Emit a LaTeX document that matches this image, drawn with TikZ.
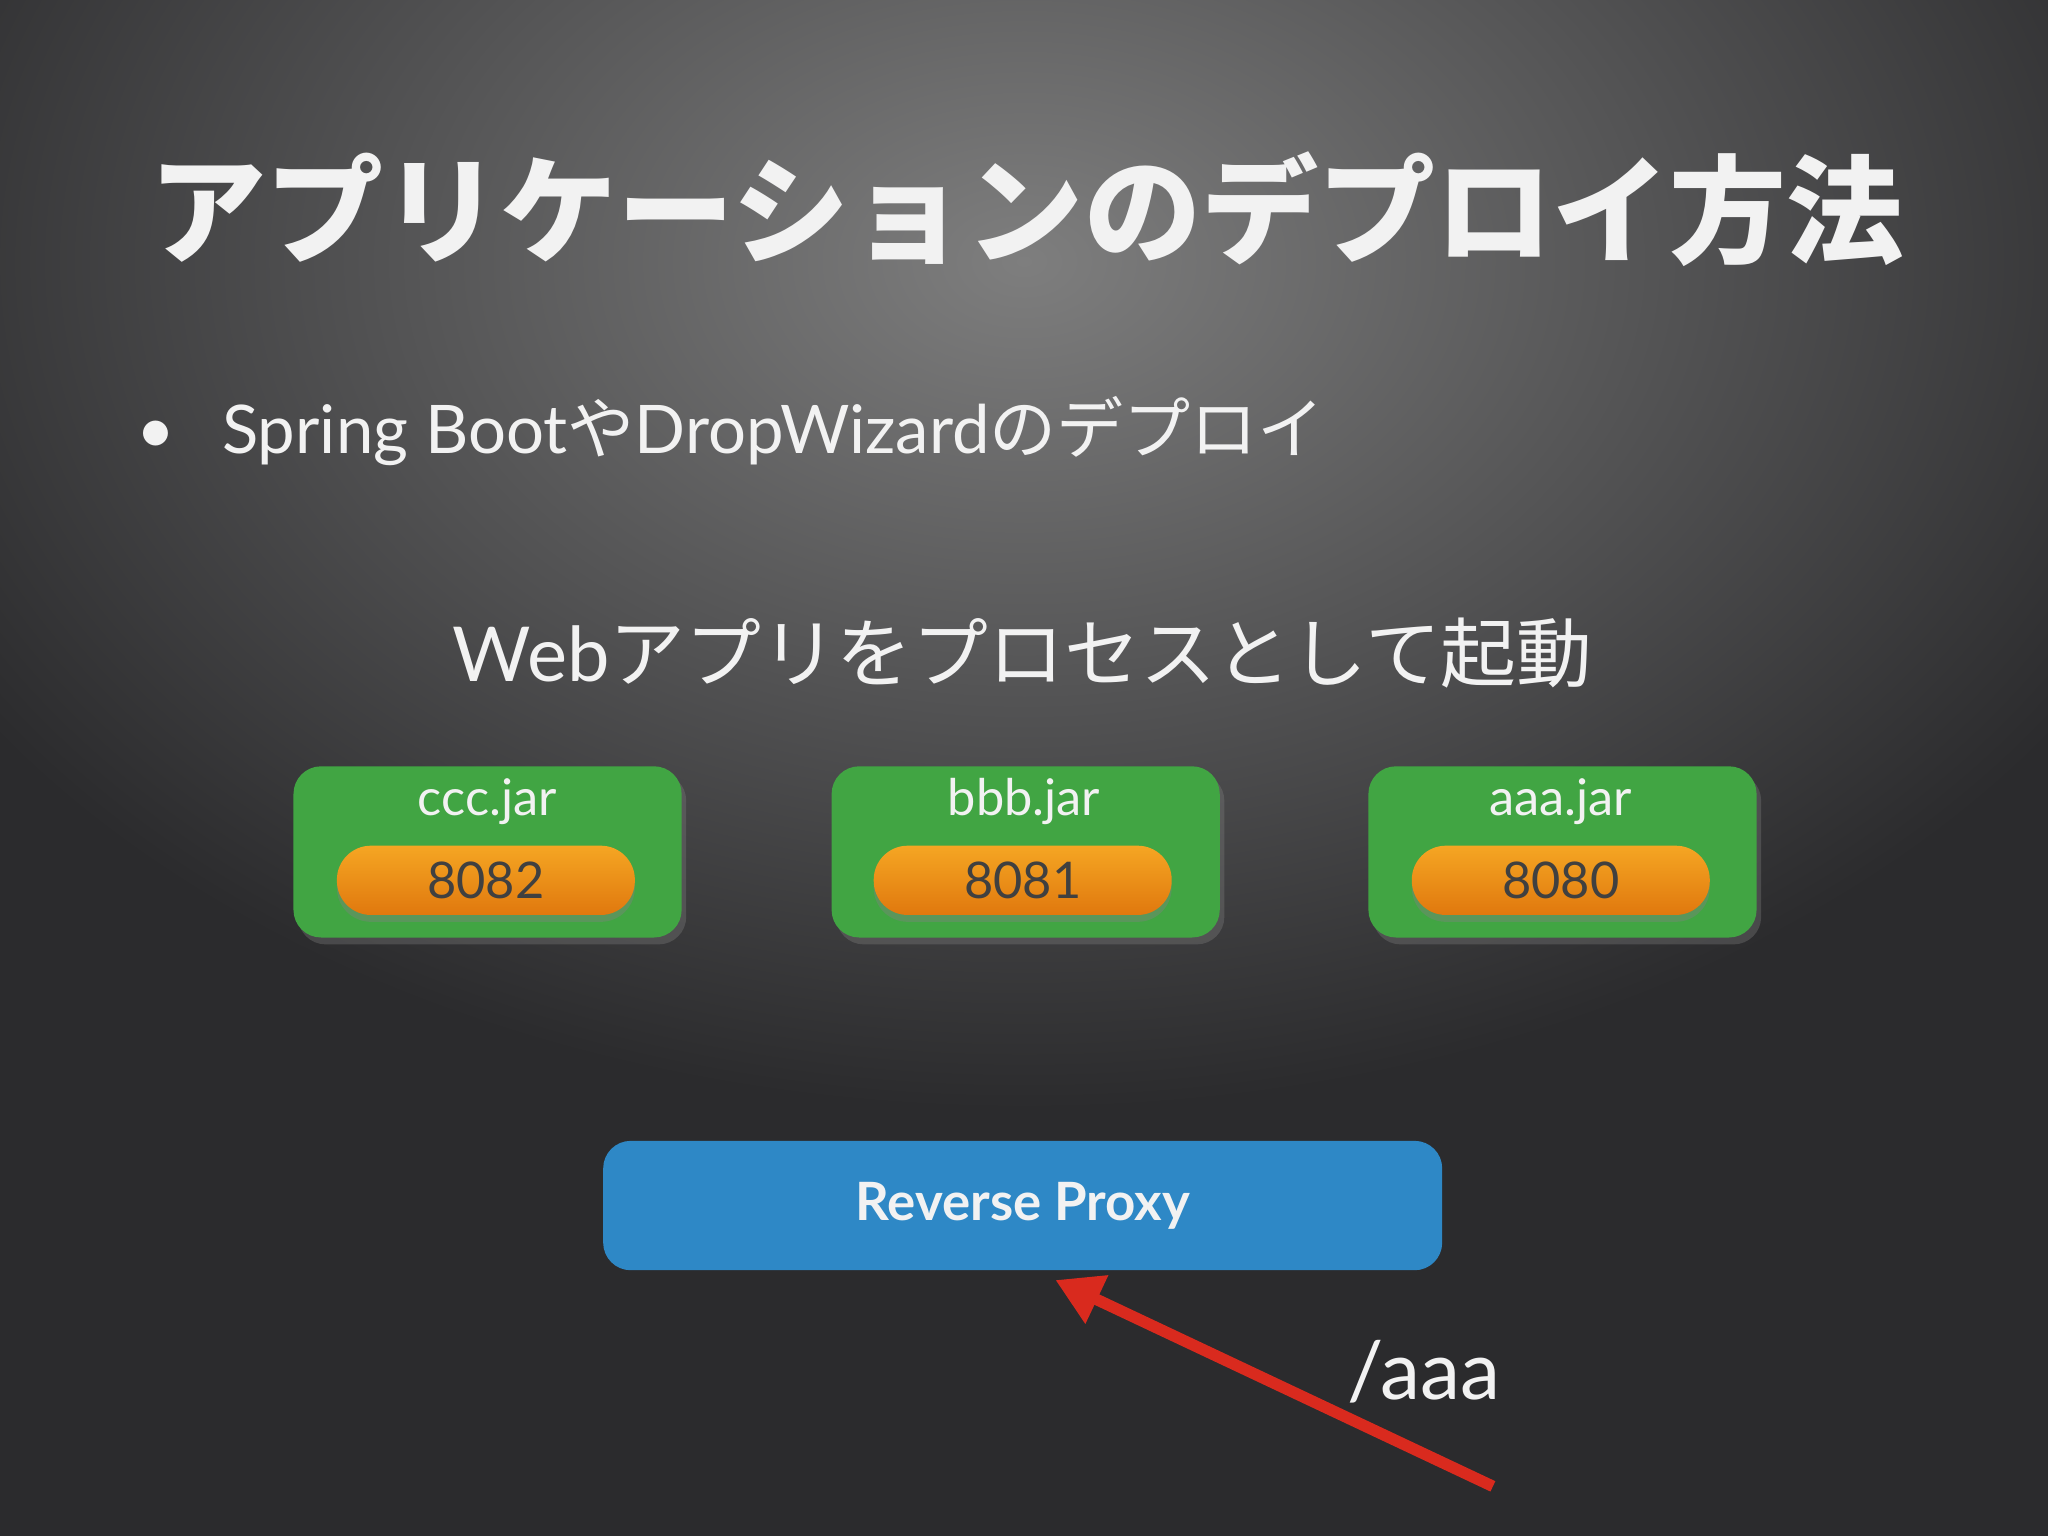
\documentclass[tikz,border=0pt]{standalone}
\usepackage{fontspec}
\setmainfont{Lato}
\newfontfamily\jp{Noto Sans CJK JP}
\usetikzlibrary{arrows.meta,shadows}
\definecolor{bgdark}{HTML}{2B2B2D}
\definecolor{bglight}{HTML}{7E7E7E}
\definecolor{boxgreen}{HTML}{41A543}
\definecolor{orangetop}{HTML}{F5A623}
\definecolor{orangebot}{HTML}{E0780E}
\definecolor{proxyblue}{HTML}{2E88C6}
\definecolor{arrowred}{HTML}{D92A1E}
\definecolor{txt}{HTML}{F2F2F2}
\tikzset{
  jarbox/.style={fill=boxgreen, rounded corners=6pt, minimum width=2.97cm, minimum height=1.31cm, anchor=north west, drop shadow={opacity=0.35, shadow xshift=1pt, shadow yshift=-1.5pt}},
  portpill/.style={top color=orangetop, bottom color=orangebot, rounded corners=7.4pt, minimum width=2.28cm, minimum height=0.53cm, text=black!75, font=\fontsize{11}{13}\selectfont, inner sep=0pt, drop shadow={opacity=0.4, shadow xshift=0pt, shadow yshift=-1.5pt}},
  jarlabel/.style={text=txt, font=\fontsize{11}{13}\selectfont},
  shtext/.style={text=txt}
}
\begin{document}
\begin{tikzpicture}[x=0.01cm,y=-0.01cm]
\useasboundingbox (0,0) rectangle (1568,1176);
\fill[bgdark] (0,0) rectangle (1568,1176);
\begin{scope}
\clip (0,0) rectangle (1568,1176);
\shade[inner color=bglight, outer color=bgdark] (784,200) ellipse (950 and 650);
\end{scope}
\node[shtext, font=\jp\bfseries\fontsize{25.5}{30}\selectfont] (title) at (786,160) {アプリケーションのデプロイ方法};
\node[shtext, font=\fontsize{14.6}{18}\selectfont, anchor=west] (bullet) at (92,330) {•\hspace{0.7em}Spring Boot{\jp や}DropWizard{\jp のデプロイ}};
\node[shtext, font=\fontsize{16.5}{20}\selectfont] (sub) at (783,500) {Web{\jp アプリをプロセスとして起動}};
\node[jarbox] (ccc) at (224,586) {};
\node[jarbox] (bbb) at (636,586) {};
\node[jarbox] (aaa) at (1047,586) {};
\node[jarlabel] (ccclab) at (373,614) {ccc.jar};
\node[jarlabel] (bbblab) at (784,614) {bbb.jar};
\node[jarlabel] (aaalab) at (1195,614) {aaa.jar};
\node[portpill] (p8082) at (372,674) {8082};
\node[portpill] (p8081) at (783,674) {8081};
\node[portpill] (p8080) at (1195,674) {8080};
\node[fill=proxyblue, rounded corners=6pt, minimum width=6.42cm, minimum height=0.99cm, text=txt, font=\bfseries\fontsize{11.5}{14}\selectfont] (proxy) at (783,923) {Reverse Proxy};
\node[shtext, font=\fontsize{17.5}{20}\selectfont] (path) at (1090,1050) {/aaa};
\coordinate (tail) at (1143,1138);
\coordinate (head) at (808,980);
\draw[arrowred, line width=2.5pt, -{Triangle[length=10pt,width=11pt]}] (tail) -- (head);
\end{tikzpicture}
\end{document}
